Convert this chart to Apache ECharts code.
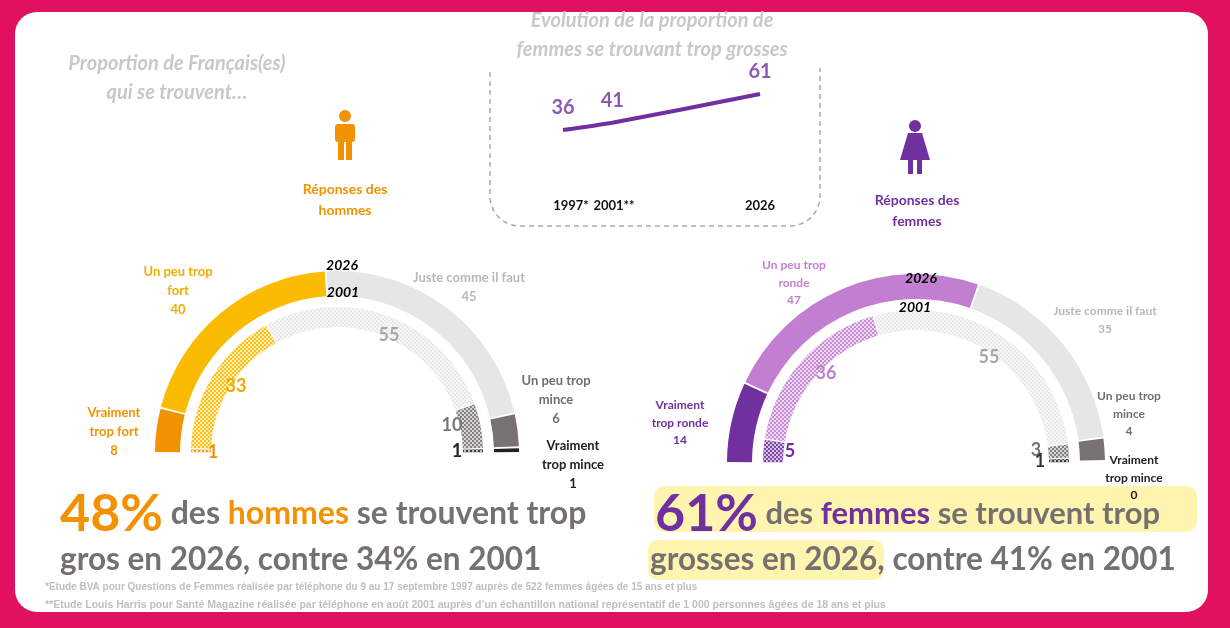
<!DOCTYPE html><html><head><meta charset="utf-8">
<script src="https://cdn.jsdelivr.net/npm/echarts@6/dist/echarts.min.js"></script>
<style>html,body{margin:0;background:#e0115f;}#c{width:1230px;height:628px;}</style></head><body><div id="c"></div>
<script>
const categoriesMen=['Vraiment trop fort','Un peu trop fort','Juste comme il faut','Un peu trop mince','Vraiment trop mince'];
const categoriesWomen=['Vraiment trop ronde','Un peu trop ronde','Juste comme il faut','Un peu trop mince','Vraiment trop mince'];
const men2026=[8,40,45,6,1];
const men2001=[1,33,55,10,1];
const women2026=[14,47,35,4,0];
const women2001=[5,36,55,3,1];
const trendYears=['1997*','2001**','2026'];
const trendPos=[0,1,4];
const trendValues=[36,41,61];
const menColors=['#f39200','#fbbb00','#e6e6e6','#797272','#222222'];
const womenColors=['#7030a0','#c27fd2','#e6e6e6','#797272','#222222'];
const menLabelColors=['#f39200','#f0ad00','#b8b8b8','#6f6f6f','#222'];
const womenLabelColors=['#7030a0','#c27fd2','#b8b8b8','#6f6f6f','#222'];

const F='Lato, "Open Sans", sans-serif';
function ring(center,radius,vals,colors,hatch){
  return {type:'pie',center:center,radius:radius,startAngle:180,endAngle:0,padAngle:0.6,silent:true,z:1,
    label:{show:false},labelLine:{show:false},
    data:vals.map((v,i)=>({value:v,itemStyle:{color:colors[i],opacity:hatch?0.9:1,
      decal:hatch?{symbol:'rect',symbolSize:1,dashArrayX:[[2,2],[0,2,2,0]],dashArrayY:[2,0],color:'rgba(255,255,255,0.75)',rotation:0}:null}}))};
}
function T(x,y,text,color,size,weight){
  return {type:'text',x:x,y:y,z:100,style:{text:text,fill:color,font:(weight||'bold')+' '+size+'px '+F,align:'center',verticalAlign:'middle',lineHeight:size*1.45}};
}
const g=[
  {type:'rect',shape:{x:15,y:12,width:1193,height:600,r:22},style:{fill:'#fff'},z:-10},
  {type:'rect',shape:{x:490,y:64,width:330,height:162,r:[0,0,30,30]},style:{fill:'none',stroke:'#aaa',lineDash:[5,4],lineWidth:1.5},z:-5},
  {type:'rect',shape:{x:488,y:60,width:336,height:8},style:{fill:'#fff'},z:-4},
  T(177,78,'Proportion de Français(es)\nqui se trouvent…','#c8c8c8',20,'italic bold'),
  T(652,35,'Evolution de la proportion de\nfemmes se trouvant trop grosses','#c8c8c8',20,'italic bold'),
  T(345,200,'Réponses des\nhommes','#f39200',14),
  T(917,211,'Réponses des\nfemmes','#7030a0',14),
  {type:'circle',shape:{cx:345,cy:116,r:6},style:{fill:'#f39200'}},
  {type:'rect',shape:{x:335,y:124,width:20,height:18,r:3},style:{fill:'#f39200'}},
  {type:'rect',shape:{x:338,y:140,width:6,height:20},style:{fill:'#f39200'}},
  {type:'rect',shape:{x:346,y:140,width:6,height:20},style:{fill:'#f39200'}},
  {type:'circle',shape:{cx:915,cy:126,r:6},style:{fill:'#7030a0'}},
  {type:'polygon',shape:{points:[[908,133],[922,133],[930,160],[900,160]]},style:{fill:'#7030a0'}},
  {type:'rect',shape:{x:908,y:158,width:5,height:16},style:{fill:'#7030a0'}},
  {type:'rect',shape:{x:917,y:158,width:5,height:16},style:{fill:'#7030a0'}},
  T(342,265,'2026','#000',14,'italic bold'), T(343,292,'2001','#000',14,'italic bold'),
  T(178,291,'Un peu trop\nfort\n'+men2026[1],menLabelColors[1],13),
  T(114,432,'Vraiment\ntrop fort\n'+men2026[0],menLabelColors[0],13),
  T(469,287,'Juste comme il faut\n'+men2026[2],menLabelColors[2],13),
  T(556,400,'Un peu trop\nmince\n'+men2026[3],'#6f6f6f',13),
  T(573,465,'Vraiment\ntrop mince\n'+men2026[4],'#222',13),
  T(236,386,''+men2001[1],'#f0ad00',18), T(213,452,''+men2001[0],'#f39200',18),
  T(389,335,''+men2001[2],'#a8a8a8',18), T(452,425,''+men2001[3],'#777',18), T(457,451,''+men2001[4],'#222',18),
  T(921,278,'2026','#000',14,'italic bold'), T(915,307,'2001','#000',14,'italic bold'),
  T(794,283,'Un peu trop\nronde\n'+women2026[1],womenLabelColors[1],12),
  T(680,423,'Vraiment\ntrop ronde\n'+women2026[0],womenLabelColors[0],12),
  T(1105,320,'Juste comme il faut\n'+women2026[2],womenLabelColors[2],12),
  T(1129,414,'Un peu trop\nmince\n'+women2026[3],'#6f6f6f',12),
  T(1134,478,'Vraiment\ntrop mince\n'+women2026[4],'#222',12),
  T(826,373,''+women2001[1],'#c27fd2',18), T(790,451,''+women2001[0],'#7030a0',18),
  T(989,357,''+women2001[2],'#a8a8a8',18), T(1036,450,''+women2001[3],'#777',18), T(1040,461,''+women2001[4],'#333',18),
  {type:'rect',shape:{x:654,y:486,width:543,height:46,r:10},style:{fill:'#fff5b0'}},
  {type:'rect',shape:{x:648,y:540,width:236,height:40,r:10},style:{fill:'#fff5b0'}},
  {type:'text',x:60,y:514,z:100,style:{text:'{a|48%}{b| des }{c|hommes}{b| se trouvent trop}',verticalAlign:'middle',rich:{a:{font:'bold 52px '+F,fill:'#f39200'},b:{font:'bold 32px '+F,fill:'#767171'},c:{font:'bold 32px '+F,fill:'#f39200'}}}},
  {type:'text',x:60,y:560,z:100,style:{text:'gros en 2026, contre 34% en 2001',font:'bold 31.5px '+F,fill:'#767171',verticalAlign:'middle'}},
  {type:'text',x:655,y:514,z:100,style:{text:'{a|61%}{b| des }{c|femmes}{b| se trouvent trop}',verticalAlign:'middle',rich:{a:{font:'bold 52px '+F,fill:'#7030a0'},b:{font:'bold 31px '+F,fill:'#767171'},c:{font:'bold 31px '+F,fill:'#7030a0'}}}},
  {type:'text',x:650,y:560,z:100,style:{text:'grosses en 2026, contre 41% en 2001',font:'bold 31.5px '+F,fill:'#767171',verticalAlign:'middle'}},
  {type:'text',x:45,y:587,style:{text:'*Etude BVA pour Questions de Femmes réalisée par téléphone du 9 au 17 septembre 1997 auprès de 522 femmes âgées de 15 ans et plus',font:'bold 10px Arial, Liberation Sans',fill:'#bfbfbf',verticalAlign:'middle'}},
  {type:'text',x:45,y:605,style:{text:'**Etude Louis Harris pour Santé Magazine réalisée par téléphone en août 2001 auprès d’un échantillon national représentatif de 1 000 personnes âgées de 18 ans et plus',font:'bold 10.5px Arial, Liberation Sans',fill:'#bfbfbf',verticalAlign:'middle'}}
];
const chart=echarts.init(document.getElementById('c'));
chart.setOption({animation:false,
  grid:{left:563,width:197,top:94,height:36},
  xAxis:{type:'value',min:0,max:4,show:false},
  yAxis:{type:'value',min:36,max:61,show:false},
  graphic:g.concat(trendYears.map((y,i)=>({type:'text',z:100,x:[563,612,760][i]+(i==0?8:i==1?2:0),y:206,style:{text:y,font:'bold 13px '+F,fill:'#111',align:'center',verticalAlign:'middle'}}))),
  series:[
    ring([337,453],[157,182],men2026,menColors,false),
    ring([337,453],[126,146],men2001,menColors,true),
    ring([916,463],[164,189],women2026,womenColors,false),
    ring([916,463],[133,153],women2001,womenColors,true),
    {type:'line',z:10,data:trendPos.map((p,i)=>[p,trendValues[i]]),symbol:'none',lineStyle:{color:'#7030a0',width:4},smooth:0.2},
    {type:'scatter',z:11,data:trendPos.map((p,i)=>[p,trendValues[i]]),symbolSize:0,
     label:{show:true,formatter:p=>String(p.value[1]),color:'#7030a0',fontSize:20,fontWeight:'bold',fontFamily:'Lato',position:'top',distance:12}}
  ]});
</script></body></html>
